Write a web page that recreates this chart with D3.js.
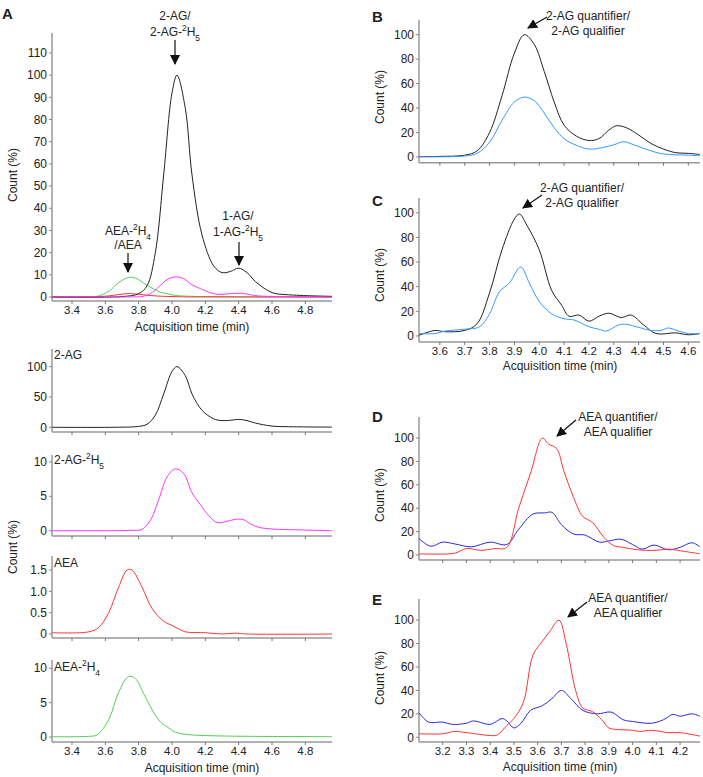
<!DOCTYPE html>
<html><head><meta charset="utf-8">
<script src="https://cdn.jsdelivr.net/npm/d3@7"></script>
<style>
body{margin:0;background:#fff}
text{font-family:"Liberation Sans",Arial,sans-serif;fill:#222}
</style></head>
<body><svg id="fig" width="703" height="777"></svg>
<script>
// chromatograms, [time, count]
const ag2 = [[3.28,0],[3.7,0.2],[3.8,1.5],[3.85,5],[3.9,20],[3.95,55],[4.0,92],[4.03,100],[4.08,85],[4.12,55],[4.18,28],[4.25,14],[4.3,11],[4.35,11.5],[4.4,13],[4.45,11],[4.5,7],[4.6,2],[4.7,1],[4.96,0.3]];
const ag2H5 = [[3.28,0],[3.75,0.05],[3.82,0.2],[3.87,1.5],[3.92,4.5],[3.97,7.8],[4.02,9],[4.07,8.3],[4.12,5.5],[4.17,3.8],[4.22,2.2],[4.27,1.2],[4.32,1.3],[4.38,1.65],[4.43,1.6],[4.47,1.0],[4.52,0.5],[4.6,0.25],[4.8,0.1],[4.96,0]];
const aea = [[3.28,0.03],[3.5,0.05],[3.56,0.15],[3.62,0.5],[3.68,1.1],[3.73,1.5],[3.76,1.5],[3.82,1.1],[3.88,0.6],[3.95,0.3],[4.0,0.2],[4.04,0.12],[4.08,0.05],[4.2,0.03],[4.3,0],[4.38,0.02],[4.45,0],[4.96,0]];
const aeaH4 = [[3.28,0.05],[3.5,0.1],[3.55,0.3],[3.62,2.5],[3.68,6.5],[3.74,8.8],[3.78,8.5],[3.83,6.3],[3.88,4],[3.93,2.2],[3.97,1.5],[4.02,0.7],[4.1,0.35],[4.3,0.15],[4.96,0.05]];

const bQuant = [[3.516,0.3],[3.6,0.5],[3.7,1.5],[3.75,5],[3.8,20],[3.85,50],[3.9,85],[3.94,100],[3.98,92],[4.02,70],[4.06,45],[4.1,26],[4.15,17],[4.2,13.5],[4.24,15],[4.28,22],[4.31,25.5],[4.35,24],[4.4,18],[4.45,11],[4.5,6.5],[4.55,3.5],[4.6,3],[4.647,2]];
const bQual = [[3.516,0.2],[3.7,0.8],[3.75,3],[3.8,12],[3.85,30],[3.9,45],[3.94,49],[3.98,46],[4.02,36],[4.06,24],[4.1,15],[4.15,9.5],[4.2,6.5],[4.25,7.5],[4.3,10],[4.34,12.5],[4.38,10],[4.45,5],[4.5,2.5],[4.6,1.5],[4.647,1]];
const cQuant = [[3.516,0.5],[3.58,4.5],[3.62,3.5],[3.7,4.5],[3.75,10],[3.8,35],[3.85,70],[3.9,95],[3.92,99],[3.95,90],[4.0,70],[4.05,37],[4.09,25],[4.12,16],[4.16,17],[4.2,12],[4.24,16],[4.28,18.5],[4.33,15],[4.37,17],[4.42,9],[4.47,2],[4.55,2.5],[4.6,1],[4.647,2]];
const cQual = [[3.516,2],[3.58,2],[3.62,4],[3.7,5.5],[3.76,7.5],[3.8,18],[3.84,36],[3.88,43],[3.925,56],[3.96,43],[4.0,28],[4.05,18],[4.1,14],[4.14,13],[4.2,7.5],[4.24,5.5],[4.27,4],[4.32,9],[4.35,9.5],[4.4,7],[4.45,4.5],[4.49,4.5],[4.52,6.5],[4.56,4],[4.6,2],[4.647,2]];
const dQuant = [[3.1,1],[3.15,0.8],[3.25,1.5],[3.3,5.5],[3.36,4],[3.42,5.5],[3.47,6.5],[3.52,40],[3.57,70],[3.62,100],[3.645,95],[3.68,91],[3.71,72],[3.75,50],[3.79,33],[3.83,28],[3.88,15],[3.92,8],[3.96,6.5],[4.02,4.5],[4.1,4],[4.15,5],[4.22,3],[4.284,1]];
const dQual = [[3.1,14],[3.15,7.5],[3.2,11],[3.25,9.5],[3.32,7],[3.4,11],[3.47,9],[3.52,22],[3.58,35],[3.63,36],[3.66,36.5],[3.7,26],[3.75,18],[3.8,17],[3.86,11],[3.9,12],[3.95,13.5],[4.0,9],[4.04,5],[4.09,8.5],[4.15,4.5],[4.2,6.5],[4.25,10.5],[4.284,7]];
const eQuant = [[3.1,3],[3.2,3],[3.25,5],[3.3,4],[3.4,1.5],[3.43,2],[3.47,10],[3.5,16],[3.54,30],[3.58,70],[3.62,82],[3.65,90],[3.69,100],[3.72,80],[3.76,40],[3.79,25],[3.83,22],[3.87,15],[3.9,8],[3.95,6.5],[4.0,6],[4.03,5],[4.08,6],[4.15,4],[4.2,4],[4.284,1]];
const eQual = [[3.1,21],[3.14,13],[3.2,13],[3.24,11],[3.3,12],[3.33,14],[3.4,11],[3.45,16],[3.47,14],[3.5,8],[3.53,12],[3.57,23],[3.62,27],[3.66,33],[3.7,40],[3.74,33],[3.79,23],[3.85,20],[3.91,21.5],[3.96,15],[4.0,13.5],[4.08,12],[4.13,15],[4.17,19.5],[4.2,18],[4.25,20],[4.284,18]];

// tick labels
const xTicksA = [3.4,3.6,3.8,4.0,4.2,4.4,4.6,4.8];
const xTicksBC = [3.6,3.7,3.8,3.9,4.0,4.1,4.2,4.3,4.4,4.5,4.6];
const xTicksDE = [3.2,3.3,3.4,3.5,3.6,3.7,3.8,3.9,4.0,4.1,4.2];
const yTicksTop = d3.range(0,111,10);
const yTicksPct = [0,20,40,60,80,100];

const svg = d3.select("#fig");
const col = {black:"#222",mag:"#ff33ff",red:"#ff3333",green:"#55cc55",lblue:"#3399ff",dblue:"#2a2add"};
const line = (x,y) => d3.line().x(d=>x(d[0])).y(d=>y(d[1])).curve(d3.curveCatmullRom.alpha(0.5));

function panel(o){
	const x = d3.scaleLinear().domain(o.xd).range([o.l,o.r]);
	const y = d3.scaleLinear().domain(o.yd).range([o.y0,o.y1]);
	const g = svg.append("g");
	// y axis
	g.append("line").attr("x1",o.l).attr("x2",o.l).attr("y1",y(o.yd[1])).attr("y2",o.axisY)
		.attr("stroke","#999").attr("stroke-width",1.5);
	o.yt.forEach(t=>{
		g.append("line").attr("x1",o.l-3).attr("x2",o.l).attr("y1",y(t)).attr("y2",y(t)).attr("stroke","#888");
		g.append("text").attr("x",o.l-5).attr("y",y(t)).attr("dy","0.35em").attr("text-anchor","end")
			.attr("font-size",o.fs||12).text(o.fmt?o.fmt(t):t);
	});
	// x axis
	g.append("line").attr("x1",o.l).attr("x2",o.r).attr("y1",o.axisY).attr("y2",o.axisY)
		.attr("stroke","#999").attr("stroke-width",1.5);
	o.xt.forEach(t=>{
		g.append("line").attr("x1",x(t)).attr("x2",x(t)).attr("y1",o.axisY).attr("y2",o.axisY+3).attr("stroke","#777");
		if(o.xlab) g.append("text").attr("x",x(t)).attr("y",o.axisY+13).attr("text-anchor","middle")
			.attr("font-size",11.5).text(t.toFixed(1));
	});
	o.series.forEach(s=>{
		g.append("path").attr("d",line(x,y)(s.d)).attr("fill","none").attr("stroke",s.c).attr("stroke-width",1);
	});
	return {x,y,g};
}

function rich(g,x,y,parts,anchor,fs){
	const t = g.append("text").attr("x",x).attr("y",y).attr("text-anchor",anchor||"middle").attr("font-size",fs||12);
	parts.forEach(p=>{
		const s = t.append("tspan").text(p[0]);
		if(p[1]=="sup") s.attr("baseline-shift","super").attr("font-size",(fs||12)*0.7);
		if(p[1]=="sub") s.attr("baseline-shift","sub").attr("font-size",(fs||12)*0.7);
	});
}
const H5 = [["2","sup"],["H"],["5","sub"]];
const H4 = [["2","sup"],["H"],["4","sub"]];

svg.append("defs").append("marker").attr("id","ah").attr("viewBox","0 0 10 10").attr("refX",9).attr("refY",5)
	.attr("markerWidth",10).attr("markerHeight",10).attr("markerUnits","userSpaceOnUse").attr("orient","auto")
	.append("path").attr("d","M0,0L10,5L0,10z").attr("fill","#111");
function arrow(x1,y1,x2,y2){
	svg.append("line").attr("x1",x1).attr("y1",y1).attr("x2",x2).attr("y2",y2)
		.attr("stroke","#111").attr("stroke-width",1.2).attr("marker-end","url(#ah)");
}
function letter(t,x,y){ svg.append("text").attr("x",x).attr("y",y).attr("font-size",15).attr("font-weight","bold").text(t); }
function xTitle(x,y){ svg.append("text").attr("x",x).attr("y",y).attr("text-anchor","middle").attr("font-size",12).text("Acquisition time (min)"); }
function yTitle(x,y){ svg.append("text").attr("transform",`translate(${x},${y}) rotate(-90)`).attr("text-anchor","middle").attr("font-size",12).text("Count (%)"); }

const xdA = [3.28,4.96];
// A top overlay
panel({xd:xdA,l:52,r:332,yd:[0,119],y0:297,y1:33,axisY:301,xt:xTicksA,xlab:true,yt:yTicksTop,
	series:[{d:aeaH4,c:col.green},{d:aea,c:col.red},{d:ag2,c:col.black},{d:ag2H5,c:col.mag}]});
letter("A",2,19);
xTitle(192,331); yTitle(17,175);
rich(svg,175,20,[["2-AG/"]]); rich(svg,175,36,[["2-AG-"]].concat(H5));
arrow(175,40,175,64);
rich(svg,128,235,[["AEA-"]].concat(H4)); rich(svg,128,249,[["/AEA"]]);
arrow(128,253,128,272);
rich(svg,238,220,[["1-AG/"]]); rich(svg,238,236,[["1-AG-"]].concat(H5));
arrow(239,242,239,265);

// A stacked
const pa = panel({xd:xdA,l:52,r:332,yd:[0,129],y0:427.3,y1:349,axisY:432,xt:xTicksA,yt:[0,50,100],series:[{d:ag2,c:col.black}]});
rich(svg,54,359,[["2-AG"]],"start",12);
panel({xd:xdA,l:52,r:332,yd:[0,11],y0:530.7,y1:455,axisY:536,xt:xTicksA,yt:[0,5,10],series:[{d:ag2H5,c:col.mag}]});
rich(svg,54,464,[["2-AG-"]].concat(H5),"start",12);
panel({xd:xdA,l:52,r:332,yd:[0,1.83],y0:634,y1:556,axisY:638,xt:xTicksA,yt:[0,0.5,1,1.5],fmt:t=>t==0?"0":t.toFixed(1),series:[{d:aea,c:col.red}]});
rich(svg,54,567,[["AEA"]],"start",12);
panel({xd:xdA,l:52,r:332,yd:[0,11.2],y0:737,y1:660,axisY:742,xt:xTicksA,xlab:true,yt:[0,5,10],series:[{d:aeaH4,c:col.green}]});
rich(svg,54,671,[["AEA-"]].concat(H4),"start",12);
xTitle(202,772); yTitle(17,547);

// B, C
const xdBC = [3.516,4.647];
panel({xd:xdBC,l:419,r:700,yd:[0,112],y0:157,y1:20,axisY:162.7,xt:xTicksBC,yt:yTicksPct,series:[{d:bQuant,c:col.black},{d:bQual,c:col.lblue}]});
letter("B",372,22); yTitle(384,97);
rich(svg,588,20,[["2-AG quantifier/"]]); rich(svg,588,35,[["2-AG qualifier"]]);
arrow(547,17,528,28);
panel({xd:xdBC,l:419,r:700,yd:[0,112],y0:336,y1:198,axisY:342,xt:xTicksBC,xlab:true,yt:yTicksPct,series:[{d:cQuant,c:col.black},{d:cQual,c:col.lblue}]});
letter("C",372,206); yTitle(384,275);
rich(svg,582,192,[["2-AG quantifier/"]]); rich(svg,582,207,[["2-AG qualifier"]]);
arrow(542,195,523,208);
xTitle(560,370);

// D, E
const xdDE = [3.1,4.284];
panel({xd:xdDE,l:419,r:700,yd:[0,118],y0:555,y1:417,axisY:560,xt:xTicksDE,yt:yTicksPct,series:[{d:dQual,c:col.dblue},{d:dQuant,c:col.red}]});
letter("D",372,422); yTitle(384,495);
rich(svg,618,421,[["AEA quantifier/"]]); rich(svg,618,436,[["AEA qualifier"]]);
arrow(576,420,557,436);
panel({xd:xdDE,l:419,r:700,yd:[0,118],y0:737.3,y1:599,axisY:742,xt:xTicksDE,xlab:true,yt:yTicksPct,series:[{d:eQual,c:col.dblue},{d:eQuant,c:col.red}]});
letter("E",372,605); yTitle(384,678);
rich(svg,628,602,[["AEA quantifier/"]]); rich(svg,628,617,[["AEA qualifier"]]);
arrow(587,602,568,617);
xTitle(560,771);
</script></body></html>
